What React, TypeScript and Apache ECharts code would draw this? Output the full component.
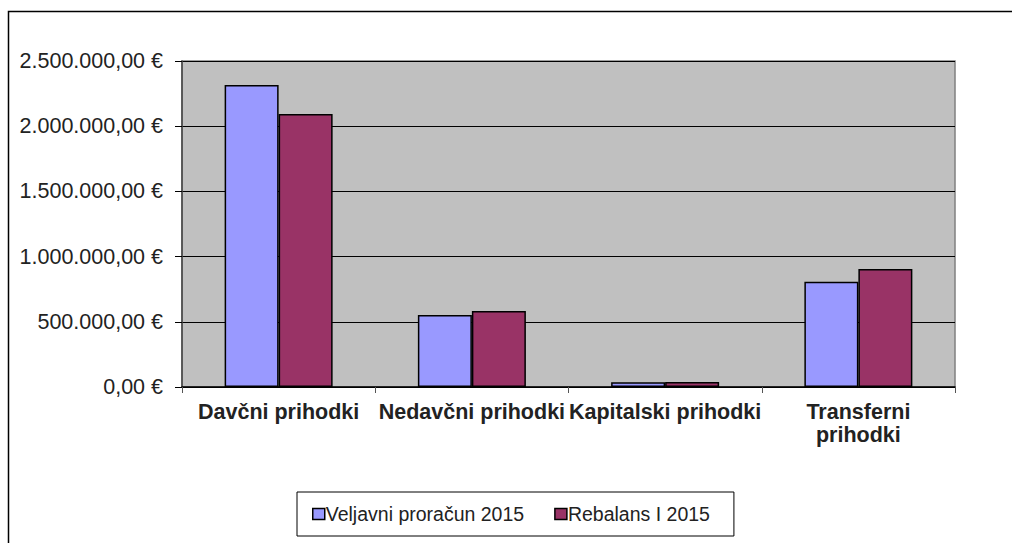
import React, { useEffect, useRef } from "react";
import * as echarts from "echarts";

const categories = ["Davčni prihodki", "Nedavčni prihodki", "Kapitalski prihodki", "Transferni\nprihodki"];
const seriesNames = ["Veljavni proračun 2015", "Rebalans I 2015"];
const veljavni = [2316000, 552000, 37000, 807000];
const rebalans = [2094000, 583000, 39000, 905000];
const colors = ["#9999FF", "#993366"];

function fmt(v: number): string {
  const s = Math.round(v).toString().replace(/\B(?=(\d{3})+(?!\d))/g, ".");
  return s + ",00 €";
}

export default function App() {
  const ref = useRef<HTMLDivElement>(null);
  useEffect(() => {
    if (!ref.current) return;
    const chart = echarts.init(ref.current, undefined, { renderer: "svg" });
    const font = "Liberation Sans, Arial, sans-serif";
    chart.setOption({
      animation: false,
      backgroundColor: "#fff",
      textStyle: { fontFamily: font },
      graphic: [
        {
          type: "rect",
          shape: { x: 8.5, y: 11.5, width: 1100, height: 600 },
          style: { fill: "none", stroke: "#000", lineWidth: 1.5 },
          silent: true,
        },
      ],
      grid: {
        left: 182,
        top: 61,
        width: 773,
        height: 326,
        show: true,
        backgroundColor: "#C0C0C0",
        borderColor: "#808080",
        borderWidth: 1.5,
      },
      legend: {
        left: 297,
        top: 492,
        orient: "horizontal",
        data: seriesNames,
        itemWidth: 12,
        itemHeight: 11,
        itemGap: 30,
        borderColor: "#000",
        borderWidth: 1,
        padding: [12, 24, 12, 15],
        icon: "rect",
        textStyle: { fontFamily: font, fontSize: 19.5, color: "#222", padding: [0, 0, 0, -4] },
        itemStyle: { borderColor: "#000", borderWidth: 1.5 },
      },
      xAxis: {
        type: "category",
        data: categories,
        axisLine: { lineStyle: { color: "#000", width: 1.5 } },
        axisTick: { show: true, length: 6, alignWithLabel: false, lineStyle: { color: "#555" } },
        axisLabel: {
          interval: 0,
          fontFamily: font,
          fontSize: 21.5,
          fontWeight: "bold",
          color: "#222",
          margin: 13,
          lineHeight: 23,
        },
      },
      yAxis: {
        type: "value",
        min: 0,
        max: 2500000,
        interval: 500000,
        axisLine: { show: true, lineStyle: { color: "#444", width: 1.5 } },
        axisTick: { show: true, length: 7, lineStyle: { color: "#000" } },
        splitLine: { show: true, lineStyle: { color: "#000", width: 1 } },
        axisLabel: {
          fontFamily: font,
          fontSize: 21.5,
          color: "#222",
          margin: 19,
          formatter: (v: number) => fmt(v),
        },
      },
      series: [
        {
          name: seriesNames[0],
          type: "bar",
          data: veljavni,
          barWidth: 54,
          barGap: "0%",
          itemStyle: { color: colors[0], borderColor: "#000", borderWidth: 1.5 },
        },
        {
          name: seriesNames[1],
          type: "bar",
          data: rebalans,
          barWidth: 54,
          barGap: "0%",
          itemStyle: { color: colors[1], borderColor: "#000", borderWidth: 1.5 },
        },
      ],
    });
    return () => chart.dispose();
  }, []);
  return (
    <div
      ref={ref}
      style={{ position: "fixed", left: 0, top: 0, width: 1012, height: 543 }}
    />
  );
}
